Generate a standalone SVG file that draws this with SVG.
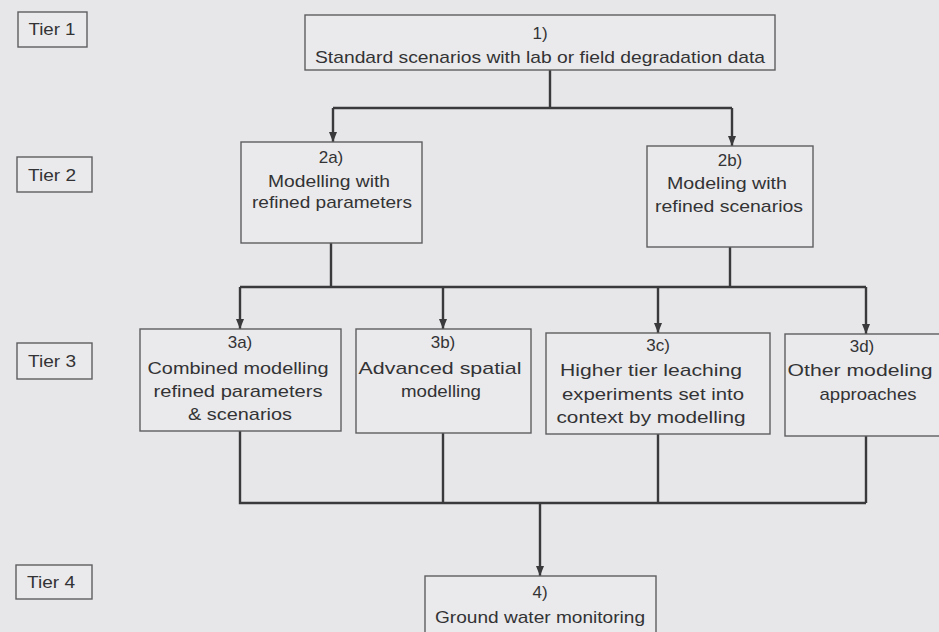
<svg xmlns="http://www.w3.org/2000/svg" width="939" height="632" viewBox="0 0 939 632">
<defs>
<marker id="arr" markerUnits="userSpaceOnUse" markerWidth="10" markerHeight="8" refX="10" refY="4" orient="auto" viewBox="0 0 10 8">
<path d="M0,0 L10,4 L0,8 Z" fill="#3a3a3c"/>
</marker>
<style>
.bg{fill:#e7e7e9}
.box{fill:#eaeaec;stroke:#5e5e60;stroke-width:1.4}
.t{font-family:"Liberation Sans",Arial,sans-serif;font-size:17px;fill:#333335;text-anchor:middle}
.tier{font-family:"Liberation Sans",Arial,sans-serif;font-size:16px;fill:#333335;text-anchor:middle}
.c{fill:none;stroke:#3a3a3c;stroke-width:2.4}
</style>
</defs>
<rect class="bg" x="0" y="0" width="939" height="632"/>

<g id="tier1"><rect class="box" x="18" y="12" width="69" height="35"/><text class="tier" x="52" y="35" textLength="47" lengthAdjust="spacingAndGlyphs">Tier 1</text></g>
<g id="tier2"><rect class="box" x="17" y="157" width="75" height="35"/><text class="tier" x="52" y="181" textLength="48" lengthAdjust="spacingAndGlyphs">Tier 2</text></g>
<g id="tier3"><rect class="box" x="17" y="343" width="75" height="36"/><text class="tier" x="52" y="367" textLength="48" lengthAdjust="spacingAndGlyphs">Tier 3</text></g>
<g id="tier4"><rect class="box" x="16" y="565" width="76" height="34"/><text class="tier" x="51" y="588" textLength="48" lengthAdjust="spacingAndGlyphs">Tier 4</text></g>

<g id="connectors">
<path class="c" d="M550,70 V108"/>
<path class="c" d="M333,108 H732"/>
<path class="c" d="M333,108 V142" marker-end="url(#arr)"/>
<path class="c" d="M732,108 V146" marker-end="url(#arr)"/>
<path class="c" d="M331,243 V287"/>
<path class="c" d="M730,247 V287"/>
<path class="c" d="M240,287 H866"/>
<path class="c" d="M240,287 V329" marker-end="url(#arr)"/>
<path class="c" d="M443,287 V329" marker-end="url(#arr)"/>
<path class="c" d="M658,287 V333" marker-end="url(#arr)"/>
<path class="c" d="M866,287 V334" marker-end="url(#arr)"/>
<path class="c" d="M240,431 V503 H866"/>
<path class="c" d="M443,433 V503"/>
<path class="c" d="M658,434 V503"/>
<path class="c" d="M866,436 V503"/>
<path class="c" d="M540,503 V576" marker-end="url(#arr)"/>
</g>

<g id="n1"><rect class="box" x="305" y="15" width="470" height="55"/>
<text class="t" x="540" y="39">1)</text>
<text class="t" x="540" y="63" textLength="450" lengthAdjust="spacingAndGlyphs">Standard scenarios with lab or field degradation data</text></g>

<g id="n2a"><rect class="box" x="241" y="142" width="181" height="101"/>
<text class="t" x="331" y="163">2a)</text>
<text class="t" x="329" y="187" textLength="122" lengthAdjust="spacingAndGlyphs">Modelling with</text>
<text class="t" x="332" y="208" textLength="160" lengthAdjust="spacingAndGlyphs">refined parameters</text></g>

<g id="n2b"><rect class="box" x="647" y="146" width="166" height="101"/>
<text class="t" x="730" y="166">2b)</text>
<text class="t" x="727" y="189" textLength="120" lengthAdjust="spacingAndGlyphs">Modeling with</text>
<text class="t" x="729" y="212" textLength="148" lengthAdjust="spacingAndGlyphs">refined scenarios</text></g>

<g id="n3a"><rect class="box" x="140" y="329" width="201" height="102"/>
<text class="t" x="240" y="348">3a)</text>
<text class="t" x="238" y="374" textLength="181" lengthAdjust="spacingAndGlyphs">Combined modelling</text>
<text class="t" x="238" y="397" textLength="169" lengthAdjust="spacingAndGlyphs">refined parameters</text>
<text class="t" x="240" y="420" textLength="104" lengthAdjust="spacingAndGlyphs">&amp; scenarios</text></g>

<g id="n3b"><rect class="box" x="356" y="329" width="175" height="104"/>
<text class="t" x="443" y="348">3b)</text>
<text class="t" x="440" y="374" textLength="163" lengthAdjust="spacingAndGlyphs">Advanced spatial</text>
<text class="t" x="441" y="397" textLength="80" lengthAdjust="spacingAndGlyphs">modelling</text></g>

<g id="n3c"><rect class="box" x="546" y="333" width="224" height="101"/>
<text class="t" x="658" y="351">3c)</text>
<text class="t" x="651" y="376" textLength="182" lengthAdjust="spacingAndGlyphs">Higher tier leaching</text>
<text class="t" x="653" y="400" textLength="182" lengthAdjust="spacingAndGlyphs">experiments set into</text>
<text class="t" x="651" y="423" textLength="189" lengthAdjust="spacingAndGlyphs">context by modelling</text></g>

<g id="n3d"><rect class="box" x="785" y="334" width="160" height="102"/>
<text class="t" x="862" y="352">3d)</text>
<text class="t" x="860" y="376" textLength="145" lengthAdjust="spacingAndGlyphs">Other modeling</text>
<text class="t" x="868" y="400" textLength="97" lengthAdjust="spacingAndGlyphs">approaches</text></g>

<g id="n4"><rect class="box" x="425" y="576" width="231" height="60"/>
<text class="t" x="540" y="598">4)</text>
<text class="t" x="540" y="623" textLength="210" lengthAdjust="spacingAndGlyphs">Ground water monitoring</text></g>
</svg>
